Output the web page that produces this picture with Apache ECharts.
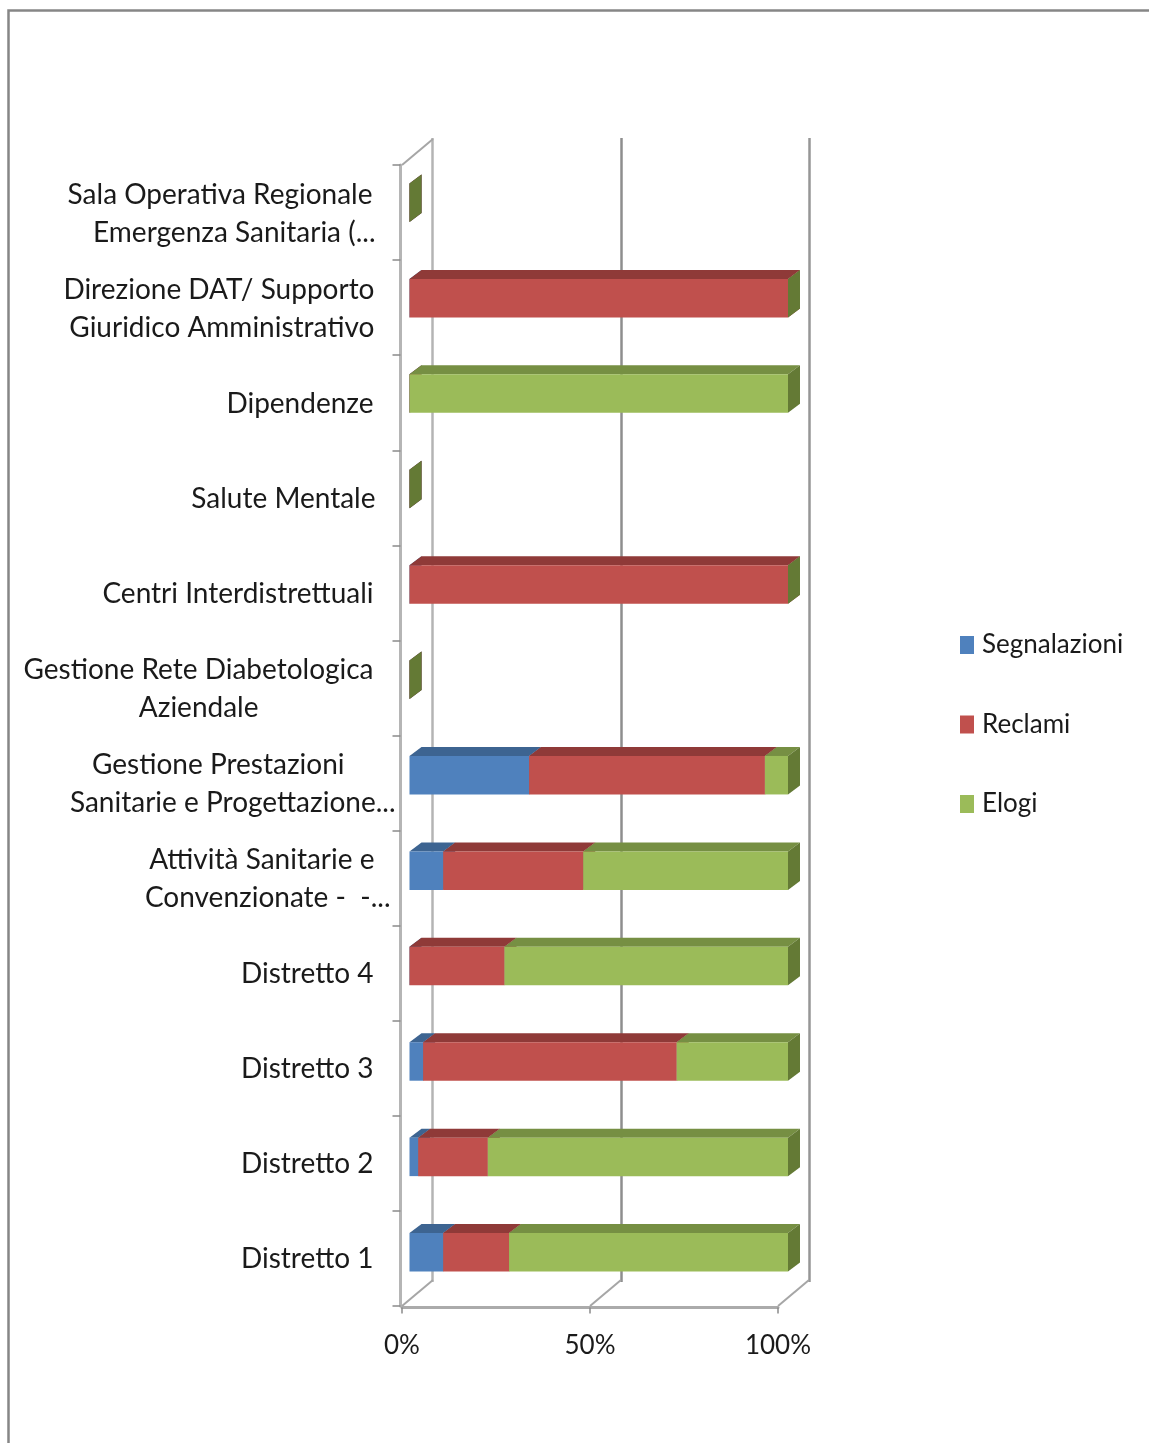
<!DOCTYPE html>
<html>
<head>
<meta charset="utf-8">
<style>html,body{margin:0;padding:0;background:#fff;overflow:hidden}#c{width:1149px;height:1443px}</style>
<script src="https://cdn.jsdelivr.net/npm/echarts@6/dist/echarts.min.js"></script>
</head>
<body>
<div id="c"></div>
<script>
// Categories run bottom to top, each label is split into its visible lines.
var categories = ['Distretto 1','Distretto 2','Distretto 3','Distretto 4','Attività Sanitarie e Convenzionate','Gestione Prestazioni Sanitarie e Progettazione','Gestione Rete Diabetologica Aziendale','Centri Interdistrettuali','Salute Mentale','Dipendenze','Direzione DAT / Supporto Giuridico Amministrativo','Sala Operativa Regionale Emergenza Sanitaria'];
var labelLines = [
  ['Distretto 1'],['Distretto 2'],['Distretto 3'],['Distretto 4'],
  ['Attività Sanitarie e','Convenzionate -  -...'],
  ['Gestione Prestazioni','Sanitarie e Progettazione...'],
  ['Gestione Rete Diabetologica','Aziendale'],
  ['Centri Interdistrettuali'],['Salute Mentale'],['Dipendenze'],
  ['Direzione DAT/ Supporto','Giuridico Amministrativo'],
  ['Sala Operativa Regionale','Emergenza Sanitaria (...']
];
// Distance of each label line from the common right edge (layout only).
var labelInsets = [
  [22],[22],[22],[22],
  [21,5],
  [51,0],
  [22,137],
  [22],[20],[22],
  [21,21],
  [23,20]
];
var segnalazioni = [8.9,2.3,3.6,0,8.9,31.6,0,0,0,0,0,0];
var reclami      = [17.4,18.4,67,25.1,37,62.3,0,100,0,0,100,0];
var elogi        = [73.7,79.3,29.4,74.9,54.1,6.1,0,0,0,100,0,0];
var seriesNames = ['Segnalazioni','Reclami','Elogi'];
var xTicks = [0,50,100];

var FONT = 'Lato, "Noto Sans", sans-serif';
var COLORS = {
  Segnalazioni:{front:'#4F81BD',top:'#3D6491',side:'#3D6491'},
  Reclami:{front:'#C0504D',top:'#8F3A38',side:'#8F3A38'},
  Elogi:{front:'#9BBB59',top:'#768F43',side:'#647A35'}
};
var BAR_DX = 12, BAR_DY = 9, BAR_H = 38.5;
var WALL_DX = 31, WALL_DY = 26;

var rich = {};
var formatted = {};
labelLines.forEach(function(lines,i){
  formatted[categories[i]] = lines.map(function(t,j){
    var k = 'l'+i+'_'+j;
    rich[k] = {fontFamily:FONT,fontSize:28,color:'#1a1a1a',padding:[0,labelInsets[i][j],0,0],lineHeight:38,align:'right'};
    return '{'+k+'|'+t+'}';
  }).join('\n');
});

function stacked(values, base){
  return values.map(function(v,i){ return [base[i], base[i]+v, i]; });
}
var zero = categories.map(function(){return 0;});
var tops1 = segnalazioni.slice();
var tops2 = segnalazioni.map(function(v,i){return v+reclami[i];});
var stacks = [stacked(segnalazioni,zero),stacked(reclami,tops1),stacked(elogi,tops2)];

function barRender(name){
  var c = COLORS[name];
  return function(params, api){
    var a = api.coord([api.value(0), api.value(2)]);
    var b = api.coord([api.value(1), api.value(2)]);
    var x0=a[0], x1=b[0], yt=a[1]-BAR_H/2, yb=a[1]+BAR_H/2;
    var children = [];
    if (x1>x0){
      children.push({type:'polygon',shape:{points:[[x0,yt],[x0+BAR_DX,yt-BAR_DY],[x1+BAR_DX,yt-BAR_DY],[x1,yt]]},style:{fill:c.top}});
      children.push({type:'rect',shape:{x:x0,y:yt,width:x1-x0,height:BAR_H},style:{fill:c.front}});
    }
    children.push({type:'polygon',shape:{points:[[x1,yt],[x1+BAR_DX,yt-BAR_DY],[x1+BAR_DX,yb-BAR_DY],[x1,yb]]},style:{fill:c.side}});
    return {type:'group',children:children};
  };
}

var edgeData = xTicks.map(function(v){return [v,0,1];}).concat([[0,categories.length-1,-1]]);

var series = [{
  type:'custom', name:'walledges', xAxisIndex:0, yAxisIndex:0, silent:true, z:1,
  data:edgeData, encode:{x:0,y:1},
  renderItem:function(params,api){
    var p = api.coord([api.value(0),api.value(1)]);
    var band = api.size([0,1])[1];
    var y = p[1]+api.value(2)*band/2;
    return {type:'line',shape:{x1:p[0],y1:y,x2:p[0]+WALL_DX,y2:y-WALL_DY},style:{stroke:'#a6a6a6',lineWidth:2}};
  }
}];
seriesNames.forEach(function(name,i){
  series.push({
    type:'custom', name:name, xAxisIndex:2, yAxisIndex:2, silent:true, z:5+i,
    itemStyle:{color:COLORS[name].front},
    data:stacks[i], encode:{x:[0,1],y:2},
    renderItem:barRender(name)
  });
});

var chart = echarts.init(document.getElementById('c'));
chart.setOption({
  animation:false,
  backgroundColor:'#fff',
  graphic:[{type:'rect',shape:{x:8.5,y:10.5,width:1300,height:1600},style:{fill:'none',stroke:'#868686',lineWidth:2.5},silent:true,z:0}],
  legend:{
    data:seriesNames, orient:'vertical', left:960, top:632, padding:0, icon:'rect',
    itemWidth:14, itemHeight:18, itemGap:53.5, selectedMode:false,
    textStyle:{fontFamily:FONT,fontSize:26,color:'#1a1a1a',padding:[0,0,3,3]}
  },
  grid:[
    {left:402,width:376,top:165,height:1141},
    {left:432.5,width:377,top:138,height:1144},
    {left:409.5,width:378.5,top:155,height:1145}
  ],
  xAxis:[
    {gridIndex:0,type:'value',min:0,max:100,interval:50,offset:1.5,
      axisLine:{show:true,onZero:false,lineStyle:{color:'#ababab',width:3}},
      axisTick:{show:true,length:6,lineStyle:{color:'#8a8a8a',width:1.5}},
      axisLabel:{formatter:'{value}%',fontFamily:FONT,fontSize:26,color:'#1a1a1a',margin:25,hideOverlap:false},
      splitLine:{show:false}},
    {gridIndex:1,type:'value',min:0,max:100,interval:50,
      axisLine:{show:false},axisTick:{show:false},axisLabel:{show:false},
      splitLine:{show:true,showMinLine:true,showMaxLine:true,lineStyle:{color:['#b4b4b4','#8e8e8e','#969696'],width:2.5}}},
    {gridIndex:2,type:'value',min:0,max:100,show:false,splitLine:{show:false}}
  ],
  yAxis:[
    {gridIndex:0,type:'category',data:categories,offset:1.5,
      axisLine:{show:true,onZero:false,lineStyle:{color:'#b5b5b5',width:3}},
      axisTick:{show:true,length:8,alignWithLabel:false,lineStyle:{color:'#8a8a8a',width:1.5}},
      axisLabel:{interval:0,margin:5,align:'right',padding:[2,0,0,0],formatter:function(v){return formatted[v];},rich:rich}},
    {gridIndex:1,type:'category',data:categories,show:false},
    {gridIndex:2,type:'category',data:categories,show:false}
  ],
  series:series
});
</script>
</body>
</html>
